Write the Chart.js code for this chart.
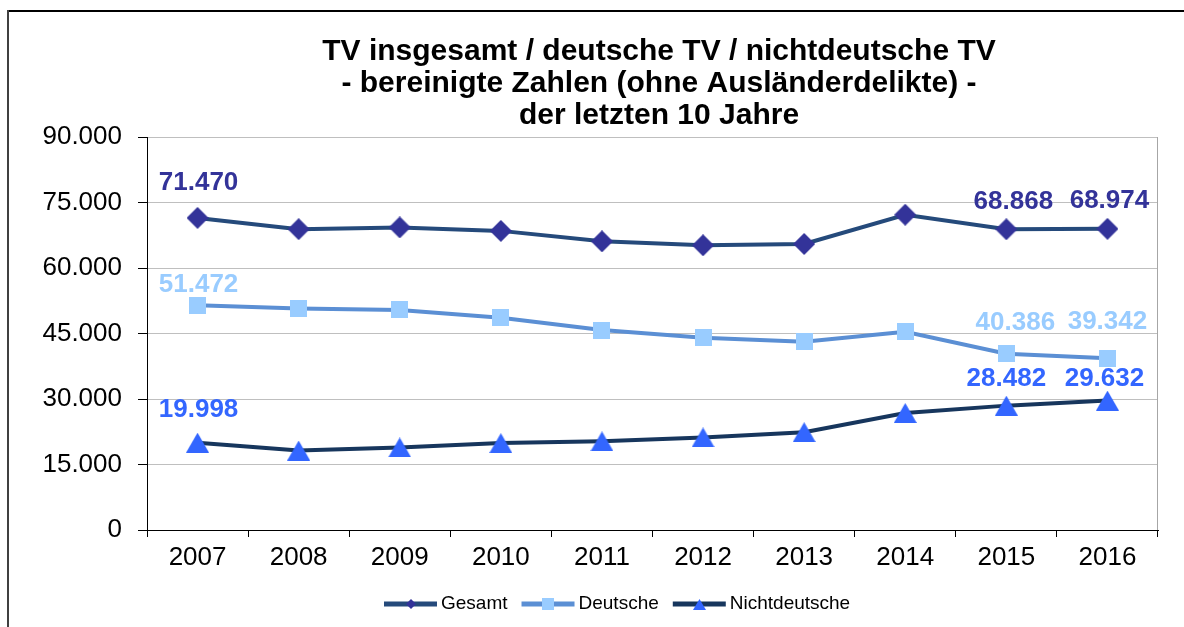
<!DOCTYPE html>
<html>
<head>
<meta charset="utf-8">
<title>TV insgesamt / deutsche TV / nichtdeutsche TV</title>
<script src="https://cdn.jsdelivr.net/npm/chart.js@4.4.1/dist/chart.umd.min.js"></script>
<style>
  html, body { margin: 0; padding: 0; background: #fff; }
  #wrap { width: 1184px; height: 627px; position: relative; overflow: hidden; }
</style>
</head>
<body>
<div id="wrap"><canvas id="chartTV" width="1184" height="627"></canvas></div>
<script>
// ── Daten ─────────────────────────────────────────────
const jahre = ['2007', '2008', '2009', '2010', '2011', '2012', '2013', '2014', '2015', '2016'];

const gesamt        = [71470, 68900, 69300, 68500, 66100, 65200, 65500, 72200, 68868, 68974];
const deutsche      = [51472, 50700, 50400, 48600, 45800, 44000, 43100, 45400, 40386, 39342];
const nichtdeutsche = [19998, 18200, 18900, 19900, 20300, 21200, 22400, 26800, 28482, 29632];

const yTicks = [0, 15000, 30000, 45000, 60000, 75000, 90000];

const titelZeilen = [
    'TV insgesamt / deutsche TV / nichtdeutsche TV',
    '- bereinigte Zahlen (ohne Ausländerdelikte) -',
    'der letzten 10 Jahre'
];

// ── Schrift / Farben ──────────────────────────────────
const FONT = '"Liberation Sans", Arial, sans-serif';

const FARBE_GESAMT_LINIE = '#254A7B';
const FARBE_GESAMT_PUNKT = '#333399';
const FARBE_DT_LINIE     = '#5B8FD4';
const FARBE_DT_PUNKT     = '#99CCFF';
const FARBE_ND_LINIE     = '#17365D';
const FARBE_ND_PUNKT     = '#3366FF';

// ── Tausenderpunkt ────────────────────────────────────
function fmt(v) {
    return String(v).replace(/\B(?=(\d{3})+(?!\d))/g, '.');
}

// ── Markierungen als kleine Canvas-Bilder ─────────────
function marker(form, w, h, farbe) {
    const c = document.createElement('canvas');
    c.width = w; c.height = h;
    const g = c.getContext('2d');
    g.fillStyle = farbe;
    g.beginPath();
    if (form === 'raute') {
        g.moveTo(w / 2, 0); g.lineTo(w, h / 2); g.lineTo(w / 2, h); g.lineTo(0, h / 2);
    } else if (form === 'dreieck') {
        g.moveTo(w / 2, 0); g.lineTo(w, h); g.lineTo(0, h);
    } else {
        g.rect(0, 0, w, h);
    }
    g.closePath();
    g.fill();
    return c;
}

// ── Plugin: Rahmen, Titel, Werte, Legende ─────────────
const extras = {
    id: 'extras',
    beforeDraw(chart) {
        const ctx = chart.ctx;
        ctx.save();
        ctx.fillStyle = '#fff';
        ctx.fillRect(0, 0, chart.width, chart.height);
        // äußerer Rahmen
        ctx.fillStyle = '#000';
        ctx.fillRect(7, 10, chart.width - 7, 2);
        ctx.fillStyle = '#404040';
        ctx.fillRect(7, 10, 2, chart.height - 10);
        ctx.restore();
    },
    afterDraw(chart) {
        const ctx = chart.ctx;
        const area = chart.chartArea;
        ctx.save();

        // rechter Rand der Zeichenfläche
        ctx.strokeStyle = '#A6A6A6';
        ctx.lineWidth = 1;
        ctx.beginPath();
        ctx.moveTo(area.right - 0.5, area.top);
        ctx.lineTo(area.right - 0.5, area.bottom);
        ctx.stroke();

        // Titel
        ctx.fillStyle = '#000';
        ctx.font = 'bold 30px ' + FONT;
        ctx.textAlign = 'center';
        ctx.textBaseline = 'middle';
        titelZeilen.forEach((z, i) => ctx.fillText(z, 659, 52 + i * 32));

        // Datenbeschriftungen
        ctx.font = 'bold 26px ' + FONT;
        chart.data.datasets.forEach((ds, di) => {
            const meta = chart.getDatasetMeta(di);
            ctx.fillStyle = ds.labelColor;
            Object.keys(ds.labelOffsets).forEach(k => {
                const p = meta.data[k];
                const o = ds.labelOffsets[k];
                ctx.fillText(fmt(ds.data[k]), p.x + o[0], p.y - o[1]);
            });
        });

        // Legende
        const ly = 604;
        let lx = 384;
        ctx.font = '19px ' + FONT;
        ctx.textAlign = 'left';
        chart.data.datasets.forEach(ds => {
            ctx.strokeStyle = ds.borderColor;
            ctx.lineWidth = 5;
            ctx.beginPath();
            ctx.moveTo(lx, ly);
            ctx.lineTo(lx + 53, ly);
            ctx.stroke();
            const m = ds.legendMarker;
            ctx.drawImage(m, Math.round(lx + 26.5 - m.width / 2), Math.round(ly - m.height / 2));
            ctx.fillStyle = '#000';
            ctx.fillText(ds.label, lx + 57, ly);
            lx += 57 + ctx.measureText(ds.label).width + 14;
        });

        ctx.restore();
    }
};

// ── Diagramm ──────────────────────────────────────────
new Chart(document.getElementById('chartTV'), {
    type: 'line',
    data: {
        labels: jahre,
        datasets: [
            {
                label: 'Gesamt',
                data: gesamt,
                borderColor: FARBE_GESAMT_LINIE,
                borderWidth: 4,
                pointStyle: marker('raute', 22, 22, FARBE_GESAMT_PUNKT),
                pointRadius: 11,
                labelColor: FARBE_GESAMT_PUNKT,
                labelOffsets: { 0: [1, 35], 8: [7, 27], 9: [2, 28] },
                legendMarker: marker('raute', 10, 10, FARBE_GESAMT_PUNKT)
            },
            {
                label: 'Deutsche',
                data: deutsche,
                borderColor: FARBE_DT_LINIE,
                borderWidth: 4,
                pointStyle: marker('quadrat', 17, 17, FARBE_DT_PUNKT),
                pointRadius: 9,
                labelColor: FARBE_DT_PUNKT,
                labelOffsets: { 0: [1, 20], 8: [9, 31], 9: [0, 36] },
                legendMarker: marker('quadrat', 12, 12, FARBE_DT_PUNKT)
            },
            {
                label: 'Nichtdeutsche',
                data: nichtdeutsche,
                borderColor: FARBE_ND_LINIE,
                borderWidth: 4,
                pointStyle: marker('dreieck', 23, 20, FARBE_ND_PUNKT),
                pointRadius: 11,
                labelColor: FARBE_ND_PUNKT,
                labelOffsets: { 0: [1, 33], 8: [0, 27], 9: [-3, 22] },
                legendMarker: marker('dreieck', 13, 11, FARBE_ND_PUNKT)
            }
        ]
    },
    options: {
        responsive: false,
        animation: false,
        events: [],
        layout: { padding: { top: 137, right: 26, bottom: 0, left: 0 } },
        plugins: {
            legend: { display: false },
            title: { display: false },
            tooltip: { enabled: false }
        },
        elements: { line: { tension: 0 } },
        scales: {
            x: {
                offset: true,
                grid: {
                    offset: true,
                    drawOnChartArea: false,
                    tickLength: 7,
                    tickColor: '#000'
                },
                border: { color: '#000', width: 1 },
                ticks: {
                    color: '#000',
                    font: { family: FONT, size: 26 },
                    padding: 5,
                    maxRotation: 0
                },
                afterFit: s => { s.height = 97; }
            },
            y: {
                min: 0,
                max: 90000,
                afterBuildTicks: s => { s.ticks = yTicks.map(v => ({ value: v })); },
                grid: {
                    color: c => (c.tick && c.tick.value === 0) ? '#000' : '#BFBFBF',
                    tickColor: '#000',
                    tickLength: 9
                },
                border: { color: '#000', width: 1 },
                ticks: {
                    color: '#000',
                    font: { family: FONT, size: 26 },
                    padding: 16,
                    callback: v => fmt(v)
                },
                afterFit: s => { s.width = 147; }
            }
        }
    },
    plugins: [extras]
});
</script>
</body>
</html>
